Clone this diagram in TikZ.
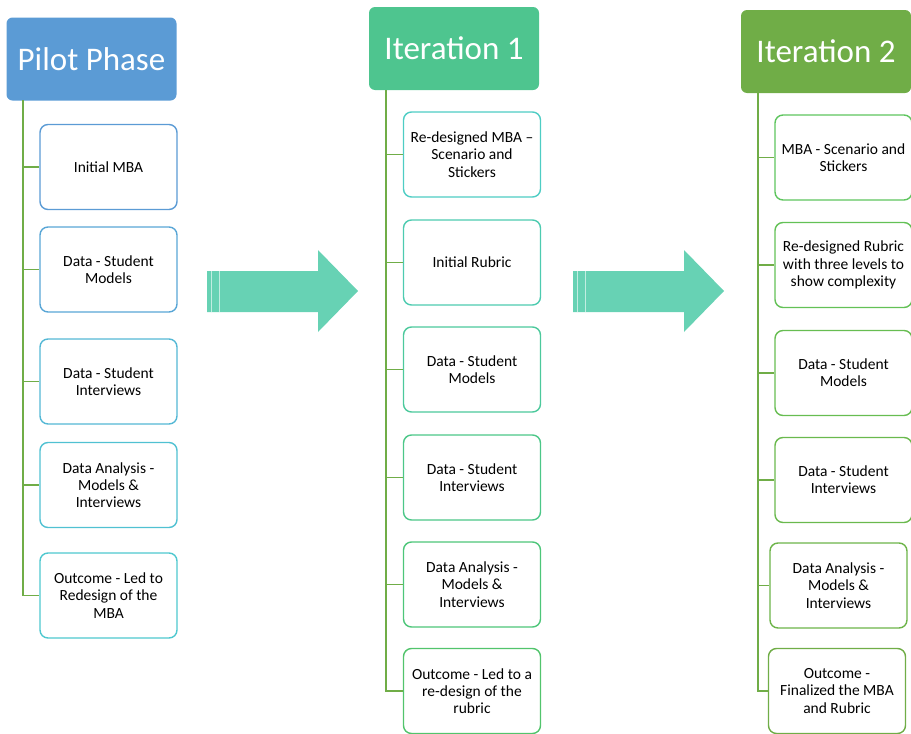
\documentclass[tikz,border=0pt]{standalone}
\usepackage{fontspec}
\setmainfont{Carlito}
\definecolor{pilot}{HTML}{5B9BD5}
\definecolor{itone}{HTML}{4EC58F}
\definecolor{ittwo}{HTML}{70AD47}
\definecolor{arrowc}{HTML}{67D2B4}
\definecolor{tree}{HTML}{70AD47}
\definecolor{pa}{HTML}{5B9BD5}
\definecolor{pb}{HTML}{59A6D6}
\definecolor{pc}{HTML}{54B8D5}
\definecolor{pd}{HTML}{50C1D2}
\definecolor{pe}{HTML}{4EC8CF}
\definecolor{ia}{HTML}{4ECDC4}
\definecolor{ib}{HTML}{4DCBB0}
\definecolor{ic}{HTML}{4CC99C}
\definecolor{id}{HTML}{4CC788}
\definecolor{ie}{HTML}{4DC679}
\definecolor{if}{HTML}{52C46C}
\definecolor{ja}{HTML}{5EC55E}
\definecolor{jb}{HTML}{63C156}
\definecolor{jc}{HTML}{67BD51}
\definecolor{jd}{HTML}{6AB94D}
\definecolor{je}{HTML}{6DB449}
\definecolor{jf}{HTML}{70AD47}
\tikzset{
  header/.style={fill=#1, draw=none, rounded corners=6pt, minimum width=170pt, minimum height=83pt, text=white, font=\fontsize{33}{38}\selectfont, inner sep=0pt},
  child/.style={draw=#1, line width=1.4pt, fill=white, rounded corners=8pt, minimum width=137pt, minimum height=85pt, align=center, font=\fontsize{15.5}{17.3}\selectfont, inner sep=0pt},
  treeline/.style={draw=tree, line width=1.4pt},
  stripe/.style={draw=white, opacity=0.6, line width=0.7pt}
}
\newcommand{\bigarrowat}[2]{%
  \fill[arrowc] (#1,271) -- ++(111,0) -- ++(0,-21) -- ++(40,41) -- ++(-40,41) -- ++(0,-20) -- ++(-111,0) -- cycle;
  \draw[stripe] (#1+4,271) -- (#1+4,312);
  \draw[stripe] (#1+12,271) -- (#1+12,312);
}
\begin{document}
\begin{tikzpicture}[x=1pt,y=-1pt]
\useasboundingbox (0,0) rectangle (911,734);
% Pilot phase
\node[header=pilot] (p0) at (91.5,59) {Pilot Phase};
\coordinate (pt) at (23,100);
\node[child=pa] (p1) at (108.5,167) {Initial MBA};
\node[child=pb] (p2) at (108.5,269.5) {Data - Student\\Models};
\node[child=pc] (p3) at (108.5,381.5) {Data - Student\\Interviews};
\node[child=pd] (p4) at (108.5,485) {Data Analysis -\\Models \&\\Interviews};
\node[child=pe] (p5) at (108.5,595.5) {Outcome - Led to\\Redesign of the\\MBA};
\draw[treeline] (pt) |- (p5.west);
\foreach \n in {p1,p2,p3,p4} \draw[treeline] (pt |- \n.west) -- (\n.west);
% Iteration 1
\node[header=itone] (i0) at (454,48.5) {Iteration 1};
\coordinate (it) at (386,90);
\node[child=ia] (i1) at (472,154.5) {Re-designed MBA --\\Scenario and\\Stickers};
\node[child=ib] (i2) at (472,262.5) {Initial Rubric};
\node[child=ic] (i3) at (472,369.5) {Data - Student\\Models};
\node[child=id] (i4) at (472,477.5) {Data - Student\\Interviews};
\node[child=ie] (i5) at (472,584.5) {Data Analysis -\\Models \&\\Interviews};
\node[child=if] (i6) at (472,691) {Outcome - Led to a\\re-design of the\\rubric};
\draw[treeline] (it) |- (i6.west);
\foreach \n in {i1,i2,i3,i4,i5} \draw[treeline] (it |- \n.west) -- (\n.west);
% Iteration 2
\node[header=ittwo] (j0) at (826,51.5) {Iteration 2};
\coordinate (jt) at (758,93);
\node[child=ja] (j1) at (843.5,157.5) {MBA - Scenario and\\Stickers};
\node[child=jb] (j2) at (843.5,265) {Re-designed Rubric\\with three levels to\\show complexity};
\node[child=jc] (j3) at (843.5,373) {Data - Student\\Models};
\node[child=jd] (j4) at (843.5,480) {Data - Student\\Interviews};
\node[child=je] (j5) at (838.5,585.5) {Data Analysis -\\Models \&\\Interviews};
\node[child=jf] (j6) at (837,691) {Outcome -\\Finalized the MBA\\and Rubric};
\draw[treeline] (jt) |- (j6.west);
\foreach \n in {j1,j2,j3,j4,j5} \draw[treeline] (jt |- \n.west) -- (\n.west);
% arrows
\bigarrowat{207}{0}
\bigarrowat{573}{0}
\end{tikzpicture}
\end{document}
